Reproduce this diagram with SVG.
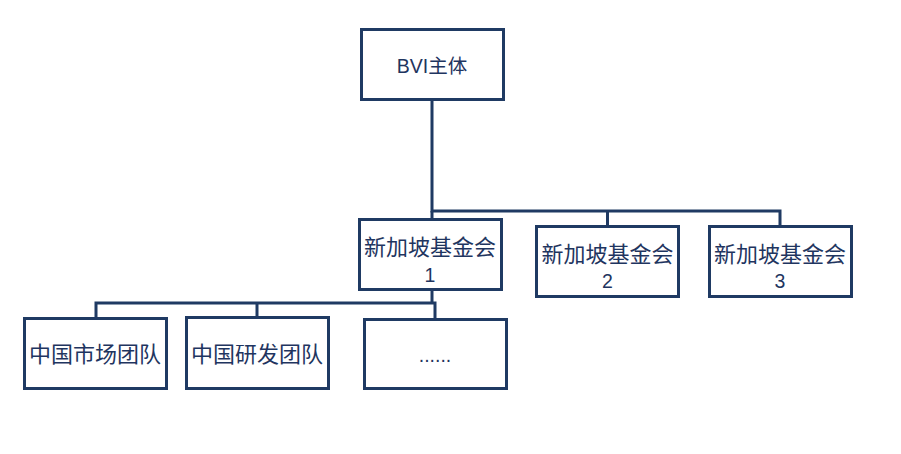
<svg xmlns="http://www.w3.org/2000/svg" width="901" height="454" viewBox="0 0 901 454">
<style>
.box{fill:#ffffff;stroke:#1f3a63;stroke-width:3}
.ln{fill:none;stroke:#1f3a63;stroke-width:3}
.t{font-family:"Liberation Sans","Noto Sans CJK SC",sans-serif;font-size:22px;fill:#1f3560;text-anchor:middle}
.s{font-size:19.5px}
</style>
<rect width="901" height="454" fill="#ffffff"/>
<g id="connectors">
<polyline class="ln" points="432,100 432,211 780,211 780,226"/>
<line class="ln" x1="607.5" y1="211" x2="607.5" y2="226"/>
<line class="ln" x1="432" y1="219" x2="432" y2="211"/>
<polyline class="ln" points="432,290 432,303"/>
<polyline class="ln" points="96,318 96,303 435,303 435,319"/>
<line class="ln" x1="257" y1="303" x2="257" y2="317"/>
</g>
<g id="bvi">
<rect class="box" x="361.5" y="29.5" width="142" height="70"/>
<text class="t s" x="432" y="73">BVI主体</text>
</g>
<g id="sg1">
<rect class="box" x="359.5" y="219.5" width="142" height="70"/>
<text class="t" x="430" y="255">新加坡基金会</text>
<text class="t s" x="430" y="282">1</text>
</g>
<g id="sg2">
<rect class="box" x="536.5" y="226.5" width="142" height="70"/>
<text class="t" x="607.5" y="262">新加坡基金会</text>
<text class="t s" x="607.5" y="288">2</text>
</g>
<g id="sg3">
<rect class="box" x="709.5" y="226.5" width="142" height="70"/>
<text class="t" x="780" y="262">新加坡基金会</text>
<text class="t s" x="780" y="288">3</text>
</g>
<g id="market">
<rect class="box" x="24.5" y="318.5" width="142" height="70"/>
<text class="t" x="95" y="362">中国市场团队</text>
</g>
<g id="rnd">
<rect class="box" x="186.5" y="317.5" width="142" height="71"/>
<text class="t" x="257" y="362">中国研发团队</text>
</g>
<g id="more">
<rect class="box" x="364.5" y="319.5" width="142" height="69"/>
<text class="t s" x="435" y="362">......</text>
</g>
</svg>
